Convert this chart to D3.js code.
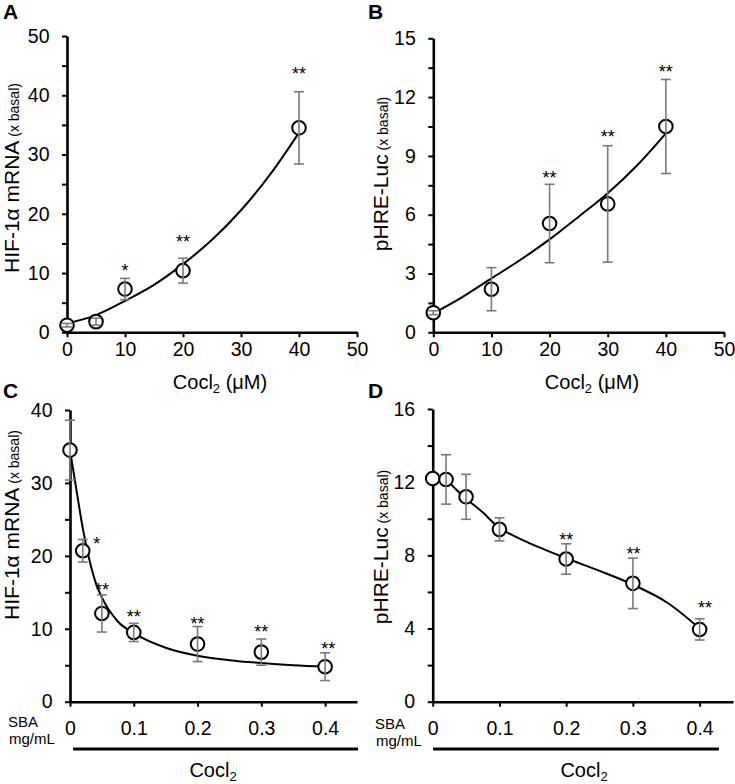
<!DOCTYPE html>
<html>
<head>
<meta charset="utf-8">
<script src="https://cdn.jsdelivr.net/npm/d3@7"></script>
<style>
    body { margin: 0; background: #fff; }
    svg { display: block; }
</style>
</head>
<body>
<div id="chart"></div>
<script>
// Panel A - HIF-1a mRNA vs CoCl2 dose
const aDose = [0, 5, 10, 20, 40];
const aMean = [1.2, 1.8, 7.3, 10.4, 34.5];
const aErr = [0.3, 0.6, 1.8, 2.1, 6.1];
const aStars = ["", "", "*", "**", "**"];
const aStarX = [0, 5, 10, 20, 40];
const aStarY = [null, null, 11.1, 16.0, 44.3];
const aFitX = [0, 5, 10, 15, 20, 25, 30, 35, 40];
const aFitY = [1.5, 2.9, 5.3, 8.0, 11.5, 15.6, 20.6, 26.6, 33.7];
const aYTicks = [0, 10, 20, 30, 40, 50];
const aYMinor = [5, 15, 25, 35, 45];
const aXTicks = [0, 10, 20, 30, 40, 50];

// Panel B - pHRE-Luc vs CoCl2 dose
const bDose = [0, 10, 20, 30, 40];
const bMean = [1.0, 2.2, 5.55, 6.55, 10.5];
const bErr = [0.1, 1.1, 2.0, 2.97, 2.4];
const bStars = ["", "", "**", "**", "**"];
const bStarX = [0, 10, 20, 30, 40];
const bStarY = [null, null, 8.1, 10.2, 13.5];
const bFitX = [0, 5, 10, 15, 20, 25, 30, 35, 40];
const bFitY = [0.97, 1.8, 2.75, 3.7, 4.74, 5.9, 7.1, 8.5, 10.15];
const bYTicks = [0, 3, 6, 9, 12, 15];
const bYMinor = [1.5, 4.5, 7.5, 10.5, 13.5];
const bXTicks = [0, 10, 20, 30, 40, 50];

// Panel C - HIF-1a mRNA vs SBA (with CoCl2)
const cDose = [0, 0.02, 0.05, 0.1, 0.2, 0.3, 0.4];
const cMean = [34.5, 20.7, 12.1, 9.5, 7.9, 6.8, 4.8];
const cErr = [4.1, 1.55, 2.55, 1.25, 2.4, 1.8, 1.9];
const cStars = ["", "*", "**", "**", "**", "**", "**"];
const cStarX = [null, 0.042, 0.05, 0.1, 0.2, 0.3, 0.405];
const cStarY = [null, 22.3, 15.9, 12.2, 11.2, 10.1, 7.8];
const cFitX = [0, 0.01, 0.02, 0.03, 0.04, 0.05, 0.075, 0.1, 0.15, 0.2, 0.25, 0.3, 0.35, 0.4];
const cFitY = [34.5, 29.1, 23.8, 19.6, 16.4, 14.3, 11.0, 9.4, 7.4, 6.3, 5.7, 5.3, 5.0, 4.8];
const cYTicks = [0, 10, 20, 30, 40];
const cYMinor = [5, 15, 25, 35];
const cXTicks = [0, 0.1, 0.2, 0.3, 0.4];

// Panel D - pHRE-Luc vs SBA (with CoCl2)
const dDose = [0, 0.02, 0.05, 0.1, 0.2, 0.3, 0.4];
const dMean = [12.2, 12.15, 11.2, 9.42, 7.8, 6.47, 3.95];
const dErr = [0, 1.35, 1.23, 0.63, 0.83, 1.38, 0.58];
const dStars = ["", "", "", "", "**", "**", "**"];
const dStarX = [null, null, null, null, 0.2, 0.301, 0.408];
const dStarY = [null, null, null, null, 9.07, 8.3, 5.37];
const dFitX = [0, 0.02, 0.035, 0.05, 0.075, 0.1, 0.14, 0.2, 0.25, 0.3, 0.35, 0.4];
const dFitY = [12.2, 12.1, 11.6, 11.1, 10.35, 9.5, 8.75, 7.84, 7.15, 6.4, 5.45, 4.0];
const dYTicks = [0, 4, 8, 12, 16];
const dYMinor = [2, 6, 10, 14];
const dXTicks = [0, 0.1, 0.2, 0.3, 0.4];

const FONT = "'Liberation Sans', Arial, Helvetica, sans-serif";

const svg = d3.select("#chart")
    .append("svg")
    .attr("width", 735)
    .attr("height", 784)
    .attr("viewBox", "0 0 735 784")
    .style("font-family", FONT);

function drawPanel(p) {
    const g = svg.append("g");

    const x = d3.scaleLinear().domain(p.xDomain).range(p.xRange);
    const y = d3.scaleLinear().domain(p.yDomain).range(p.yRange);

    // minor y ticks (no labels)
    g.append("g")
        .attr("transform", `translate(${p.xRange[0]},0)`)
        .call(d3.axisLeft(y).tickValues(p.yMinor).tickSize(5).tickSizeOuter(0).tickFormat(""))
        .call(a => a.select(".domain").remove())
        .selectAll("line")
        .attr("stroke", "#000")
        .attr("stroke-width", 2);

    // y axis
    g.append("g")
        .attr("transform", `translate(${p.xRange[0]},0)`)
        .call(d3.axisLeft(y).tickValues(p.yTicks).tickSize(5).tickSizeOuter(0).tickPadding(12.5))
        .call(a => a.select(".domain").attr("stroke-width", 2.6))
        .call(a => a.selectAll("line").attr("stroke-width", 2))
        .selectAll("text")
        .attr("font-size", "19.5px")
        .attr("font-family", FONT)
        .attr("fill", "#000");

    // x axis
    g.append("g")
        .attr("transform", `translate(0,${p.yRange[0]})`)
        .call(d3.axisBottom(x).tickValues(p.xTicks).tickSize(5).tickSizeOuter(0)
            .tickPadding(p.xPad).tickFormat(p.xFormat))
        .call(a => a.select(".domain").attr("stroke-width", 2.6))
        .call(a => a.selectAll("line").attr("stroke-width", 2))
        .selectAll("text")
        .attr("font-size", "19.5px")
        .attr("font-family", FONT)
        .attr("fill", "#000");

    const pts = p.dose.map((d, i) => ({ x: d, m: p.mean[i], e: p.err[i] }));

    // fitted curve
    const fit = p.fitX.map((d, i) => [d, p.fitY[i]]);
    g.append("path")
        .datum(fit)
        .attr("fill", "none")
        .attr("stroke", "#000")
        .attr("stroke-width", 2)
        .attr("d", d3.line().x(d => x(d[0])).y(d => y(d[1])).curve(p.curve));

    // markers
    g.selectAll("circle")
        .data(pts)
        .enter()
        .append("circle")
        .attr("cx", d => x(d.x))
        .attr("cy", d => y(d.m))
        .attr("r", 6.8)
        .attr("fill", "#fff")
        .attr("stroke", "#000")
        .attr("stroke-width", 2);

    // error bars (drawn over markers, like Excel)
    const eb = g.selectAll(".err")
        .data(pts.filter(d => d.e > 0))
        .enter()
        .append("g")
        .attr("class", "err")
        .attr("stroke", "#7a7a7a")
        .attr("stroke-width", 1.6);
    eb.append("line")
        .attr("x1", d => x(d.x)).attr("x2", d => x(d.x))
        .attr("y1", d => y(d.m + d.e)).attr("y2", d => y(d.m - d.e));
    eb.append("line")
        .attr("x1", d => x(d.x) - 5).attr("x2", d => x(d.x) + 5)
        .attr("y1", d => y(d.m + d.e)).attr("y2", d => y(d.m + d.e));
    eb.append("line")
        .attr("x1", d => x(d.x) - 5).attr("x2", d => x(d.x) + 5)
        .attr("y1", d => y(d.m - d.e)).attr("y2", d => y(d.m - d.e));

    // significance stars
    p.stars.forEach((s, i) => {
        if (!s) return;
        g.append("text")
            .attr("x", x(p.starX[i]))
            .attr("y", y(p.starY[i]))
            .attr("dy", "0.58em")
            .attr("text-anchor", "middle")
            .attr("font-size", "18px")
            .attr("fill", "#000")
            .text(s);
    });

    // panel letter
    g.append("text")
        .attr("x", p.letterPos[0])
        .attr("y", p.letterPos[1])
        .attr("font-size", "21px")
        .attr("font-weight", "bold")
        .text(p.letter);

    // y axis title
    const yt = g.append("text")
        .attr("transform", `translate(${p.yTitlePos[0]},${p.yTitlePos[1]}) rotate(-90)`)
        .attr("text-anchor", "middle")
        .attr("fill", "#000");
    yt.append("tspan").attr("font-size", "21px").text(p.yTitle);
    yt.append("tspan").attr("font-size", "14px").text(" (x basal)");

    // x axis title
    const xt = g.append("text")
        .attr("x", p.xTitlePos[0])
        .attr("y", p.xTitlePos[1])
        .attr("text-anchor", "middle")
        .attr("font-size", "20px")
        .attr("fill", "#000");
    xt.append("tspan").text("Cocl");
    xt.append("tspan").attr("font-size", "13px").attr("dy", 4).text("2");
    if (p.xTitleUnit) {
        xt.append("tspan").attr("dy", -4).text(" (μM)");
    }

    // SBA label and CoCl2 bracket line
    if (p.sba) {
        g.append("text")
            .attr("x", p.sba[0]).attr("y", p.sba[1])
            .attr("font-size", "15px")
            .text("SBA");
        g.append("text")
            .attr("x", p.sba[2]).attr("y", p.sba[3])
            .attr("font-size", "15px")
            .text("mg/mL");
        g.append("line")
            .attr("x1", p.bar[0]).attr("x2", p.bar[1])
            .attr("y1", p.bar[2]).attr("y2", p.bar[2])
            .attr("stroke", "#000")
            .attr("stroke-width", 3);
    }
}

const sbaFormat = d => d === 0 ? "0" : d3.format(".1f")(d);

drawPanel({
    letter: "A", letterPos: [3, 19],
    dose: aDose, mean: aMean, err: aErr, stars: aStars, starX: aStarX, starY: aStarY,
    fitX: aFitX, fitY: aFitY, curve: d3.curveCatmullRom.alpha(0.5),
    xDomain: [0, 50], xRange: [67, 357], yDomain: [0, 50], yRange: [332.3, 36],
    yTicks: aYTicks, yMinor: aYMinor, xTicks: aXTicks, xPad: 4.5, xFormat: d3.format("d"),
    yTitle: "HIF-1α mRNA", yTitlePos: [19, 178],
    xTitlePos: [220, 389], xTitleUnit: true
});

drawPanel({
    letter: "B", letterPos: [368, 19],
    dose: bDose, mean: bMean, err: bErr, stars: bStars, starX: bStarX, starY: bStarY,
    fitX: bFitX, fitY: bFitY, curve: d3.curveCatmullRom.alpha(0.5),
    xDomain: [0, 50], xRange: [433.3, 724], yDomain: [0, 15], yRange: [332.3, 38.3],
    yTicks: bYTicks, yMinor: bYMinor, xTicks: bXTicks, xPad: 4.5, xFormat: d3.format("d"),
    yTitle: "pHRE-Luc", yTitlePos: [388, 174],
    xTitlePos: [592, 389], xTitleUnit: true
});

drawPanel({
    letter: "C", letterPos: [3, 398],
    dose: cDose, mean: cMean, err: cErr, stars: cStars, starX: cStarX, starY: cStarY,
    fitX: cFitX, fitY: cFitY, curve: d3.curveMonotoneX,
    xDomain: [0, 0.45], xRange: [70, 357], yDomain: [0, 40], yRange: [701.7, 410],
    yTicks: cYTicks, yMinor: cYMinor, xTicks: cXTicks, xPad: 14, xFormat: sbaFormat,
    yTitle: "HIF-1α mRNA", yTitlePos: [19, 525],
    xTitlePos: [213, 777], xTitleUnit: false,
    sba: [8, 727, 9, 744], bar: [73, 358, 749]
});

drawPanel({
    letter: "D", letterPos: [368, 398],
    dose: dDose, mean: dMean, err: dErr, stars: dStars, starX: dStarX, starY: dStarY,
    fitX: dFitX, fitY: dFitY, curve: d3.curveCatmullRom.alpha(0.5),
    xDomain: [0, 0.45], xRange: [432.7, 733], yDomain: [0, 16], yRange: [701.7, 409],
    yTicks: dYTicks, yMinor: dYMinor, xTicks: dXTicks, xPad: 14, xFormat: sbaFormat,
    yTitle: "pHRE-Luc", yTitlePos: [388, 547],
    xTitlePos: [584, 777], xTitleUnit: false,
    sba: [375, 729, 376, 746], bar: [433, 719, 749]
});
</script>
</body>
</html>
